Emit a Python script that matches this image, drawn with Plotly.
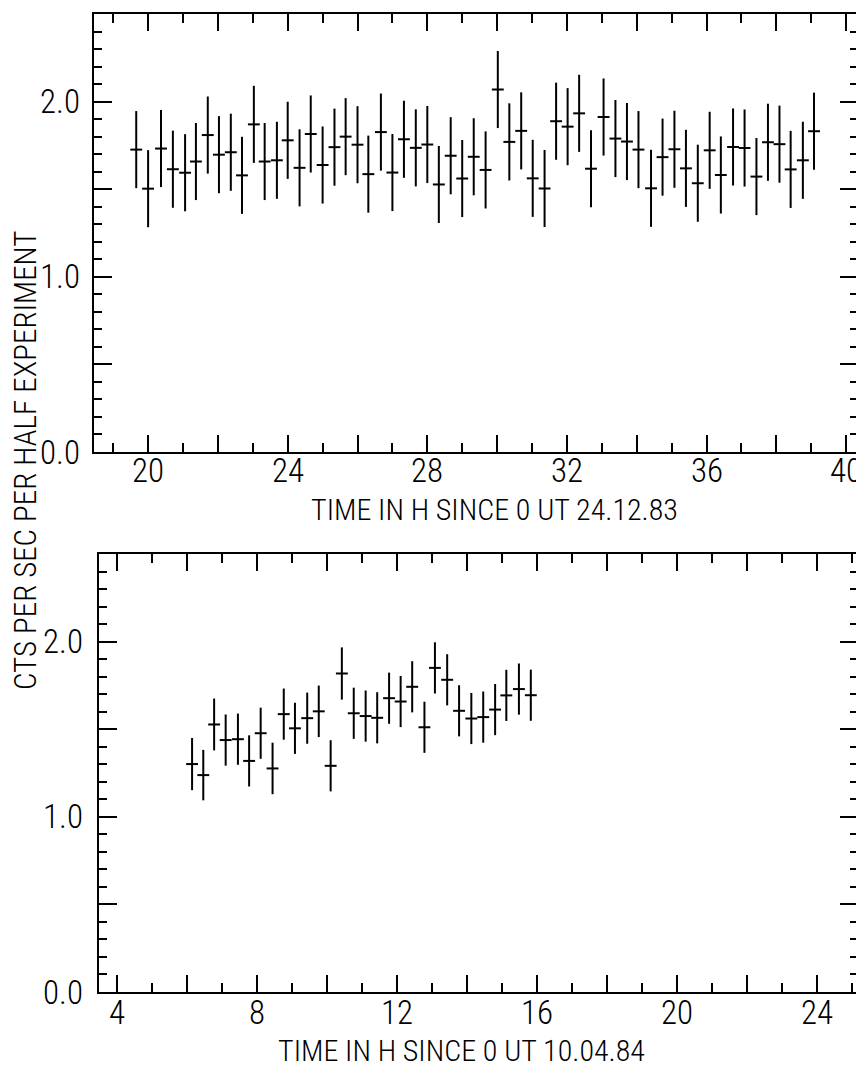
import plotly.graph_objects as go

# ---------------- data ----------------
X_TOP = [19.66, 20.00, 20.37, 20.71, 21.06, 21.37, 21.71, 22.03, 22.37, 22.69,
         23.03, 23.34, 23.69, 24.00, 24.34, 24.66, 25.00, 25.34, 25.66, 26.00,
         26.31, 26.67, 27.00, 27.33, 27.67, 28.00, 28.33, 28.67, 29.00, 29.33,
         29.67, 30.02, 30.35, 30.69, 31.02, 31.36, 31.69, 32.02, 32.35, 32.69,
         33.05, 33.39, 33.72, 34.05, 34.41, 34.74, 35.08, 35.41, 35.75, 36.09,
         36.41, 36.76, 37.09, 37.43, 37.76, 38.09, 38.41, 38.76, 39.08]
Y_TOP = [1.726, 1.503, 1.732, 1.614, 1.594, 1.658, 1.809, 1.697, 1.711, 1.579,
         1.870, 1.658, 1.665, 1.779, 1.622, 1.815, 1.638, 1.740, 1.800, 1.754,
         1.586, 1.826, 1.595, 1.785, 1.736, 1.755, 1.527, 1.691, 1.561, 1.685,
         1.610, 2.069, 1.770, 1.833, 1.562, 1.504, 1.888, 1.857, 1.933, 1.617,
         1.912, 1.789, 1.772, 1.726, 1.505, 1.683, 1.728, 1.619, 1.534, 1.722,
         1.581, 1.741, 1.735, 1.572, 1.768, 1.757, 1.613, 1.665, 1.831]
ERR_TOP = [0.22, 0.22, 0.22, 0.22, 0.22, 0.22, 0.22, 0.22, 0.22, 0.22,
           0.22, 0.22, 0.22, 0.22, 0.22, 0.22, 0.22, 0.22, 0.22, 0.22,
           0.22, 0.22, 0.22, 0.22, 0.22, 0.22, 0.22, 0.22, 0.22, 0.22,
           0.22, 0.22, 0.22, 0.22, 0.22, 0.22, 0.22, 0.22, 0.22, 0.22,
           0.22, 0.22, 0.22, 0.22, 0.22, 0.22, 0.22, 0.22, 0.22, 0.22,
           0.22, 0.22, 0.22, 0.22, 0.22, 0.22, 0.22, 0.22, 0.22]

X_BOT = [6.15, 6.47, 6.78, 7.11, 7.46, 7.78, 8.11, 8.45, 8.77, 9.09,
         9.44, 9.77, 10.11, 10.43, 10.77, 11.11, 11.44, 11.78, 12.11, 12.44,
         12.79, 13.09, 13.44, 13.78, 14.13, 14.47, 14.81, 15.13, 15.49, 15.83]
Y_BOT = [1.301, 1.238, 1.527, 1.438, 1.443, 1.319, 1.477, 1.276, 1.586, 1.505,
         1.563, 1.602, 1.291, 1.818, 1.591, 1.575, 1.565, 1.677, 1.658, 1.742,
         1.511, 1.850, 1.782, 1.605, 1.561, 1.569, 1.612, 1.693, 1.729, 1.694]
ERR_BOT = [0.149, 0.144, 0.148, 0.146, 0.146, 0.146, 0.146, 0.147, 0.146, 0.146,
           0.146, 0.147, 0.146, 0.149, 0.146, 0.146, 0.146, 0.146, 0.146, 0.146,
           0.146, 0.146, 0.146, 0.146, 0.146, 0.146, 0.146, 0.146, 0.146, 0.146]

HALF_BIN_H = 0.17   # horizontal half-width of each time bin (hours)

TOP_TICKS = [20, 22, 24, 26, 28, 30, 32, 34, 36, 38, 40]
TOP_LABEL_VALS = [20, 24, 28, 32, 36, 40]
BOT_TICKS = [4, 6, 8, 10, 12, 14, 16, 18, 20, 22, 24]
BOT_LABEL_VALS = [4, 8, 12, 16, 20, 24]
Y_TICKS = [0.0, 0.5, 1.0, 1.5, 2.0]
Y_LABEL_VALS = [0.0, 1.0, 2.0]

TOP_TITLE = "TIME IN H SINCE 0 UT 24.12.83"
BOT_TITLE = "TIME IN H SINCE 0 UT 10.04.84"
Y_TITLE = "CTS PER SEC PER HALF EXPERIMENT"

# ---------------- figure ----------------
# The figure is slightly wider than the window so that the right frame
# falls just outside the visible page (as in the scanned original).
W, H = 860, 1070
FONT = "Roboto Condensed, Liberation Sans Narrow, DejaVu Sans Condensed, sans-serif"
TICK_SIZE = 33
TITLE_SIZE = 30

def px_x(p):
    """screen x pixel -> paper fraction"""
    return p / W

def px_y(p):
    """screen y pixel -> paper fraction"""
    return 1 - p / H

fig = go.Figure()

def add_series(xs, ys, errs, xa, ya):
    fig.add_trace(go.Scatter(
        x=xs, y=ys, mode="markers",
        marker=dict(size=2, color="black", opacity=0),
        error_y=dict(type="data", array=errs, width=0, thickness=2, color="black"),
        error_x=dict(type="constant", value=HALF_BIN_H, width=0, thickness=2, color="black"),
        xaxis=xa, yaxis=ya, showlegend=False, hoverinfo="skip"))

add_series(X_TOP, Y_TOP, ERR_TOP, "x", "y")
add_series(X_BOT, Y_BOT, ERR_BOT, "x2", "y2")

def xaxis(domain, rng, tv, anchor):
    return dict(domain=domain, range=rng, anchor=anchor, automargin=False,
                showline=True, linecolor="black", linewidth=2, mirror="ticks",
                ticks="inside", ticklen=17, tickwidth=2, tickcolor="black",
                tickmode="array", tickvals=tv, showticklabels=False,
                minor=dict(tickmode="linear", tick0=0, dtick=1, ticks="inside",
                           ticklen=9, tickwidth=2, tickcolor="black", showgrid=False),
                showgrid=False, zeroline=False)

def yaxis(domain, anchor):
    return dict(domain=domain, range=[0, 2.5], anchor=anchor, automargin=False,
                showline=True, linecolor="black", linewidth=2, mirror="ticks",
                ticks="inside", ticklen=18, tickwidth=2, tickcolor="black",
                tickmode="array", tickvals=Y_TICKS, showticklabels=False,
                minor=dict(tickmode="linear", tick0=0, dtick=0.1, ticks="inside",
                           ticklen=8, tickwidth=2, tickcolor="black", showgrid=False),
                showgrid=False, zeroline=False)

top_x0, top_x1 = 18.45, 40.34
bot_x0, bot_x1 = 3.49, 25.18

tfont = dict(family=FONT, size=TICK_SIZE, color="black", weight=300)
ann = []
# x tick labels (positioned by the x axes)
for v in TOP_LABEL_VALS:
    ann.append(dict(text=str(v), x=v, y=px_y(471), xref="x", yref="paper",
                    showarrow=False, xanchor="center", yanchor="middle", font=tfont))
for v in BOT_LABEL_VALS:
    ann.append(dict(text=str(v), x=v, y=px_y(1012), xref="x2", yref="paper",
                    showarrow=False, xanchor="center", yanchor="middle", font=tfont))
# y tick labels (positioned by the y axes)
for v in Y_LABEL_VALS:
    ann.append(dict(text=f"{v:.1f}", x=px_x(82), y=v, xref="paper", yref="y",
                    showarrow=False, xanchor="right", yanchor="middle", font=tfont))
    ann.append(dict(text=f"{v:.1f}", x=px_x(85), y=v, xref="paper", yref="y2",
                    showarrow=False, xanchor="right", yanchor="middle", font=tfont))
# titles
ttl = dict(family=FONT, size=TITLE_SIZE, color="black", weight=300)
ann += [
    dict(text=TOP_TITLE, x=px_x(494), y=px_y(510), xref="paper", yref="paper",
         showarrow=False, xanchor="center", yanchor="middle", font=ttl),
    dict(text=BOT_TITLE, x=px_x(461), y=px_y(1050), xref="paper", yref="paper",
         showarrow=False, xanchor="center", yanchor="middle", font=ttl),
    dict(text=Y_TITLE, x=px_x(25), y=px_y(461), xref="paper", yref="paper",
         showarrow=False, xanchor="center", yanchor="middle", textangle=-90,
         font=dict(family=FONT, size=31, color="black", weight=300)),
]

fig.update_layout(
    width=W, height=H,
    margin=dict(l=0, r=0, t=0, b=0),
    paper_bgcolor="white", plot_bgcolor="white",
    xaxis=xaxis([px_x(94), px_x(858)], [top_x0, top_x1], TOP_TICKS, "y"),
    yaxis=yaxis([px_y(452), px_y(14)], "x"),
    xaxis2=xaxis([px_x(99), px_x(858)], [bot_x0, bot_x1], BOT_TICKS, "y2"),
    yaxis2=yaxis([px_y(992), px_y(554)], "x2"),
    annotations=ann,
)

PAGE_FIX = ("document.body.style.margin='0px';"
            "document.body.style.overflow='hidden';"
            "document.documentElement.style.overflow='hidden';")

fig.write_html("out.html", post_script=PAGE_FIX,
               config={"displayModeBar": False, "staticPlot": True})
